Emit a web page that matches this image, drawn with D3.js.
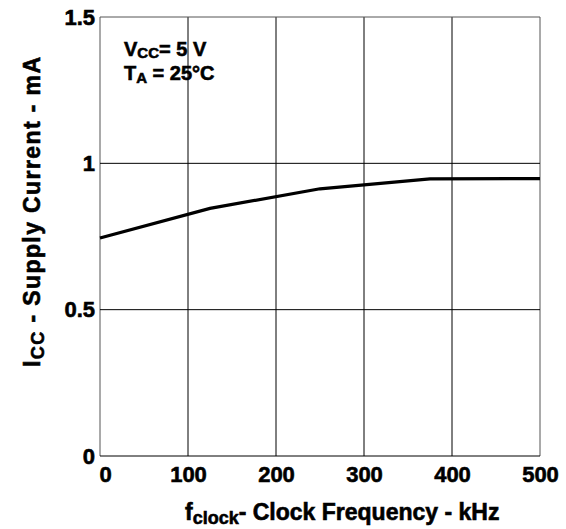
<!DOCTYPE html>
<html>
<head>
<meta charset="utf-8">
<script src="https://cdn.jsdelivr.net/npm/d3@7"></script>
<style>
  body { margin: 0; background: #fff; }
  svg { display: block; font-family: "Liberation Sans", Arial, sans-serif; font-weight: bold; }
  svg text { stroke: #000; stroke-width: 0.6px; }
  .tick text { font-size: 22px; font-weight: bold; fill: #000; }
  .grid line { stroke-width: 1; }
</style>
</head>
<body>
<div id="chart"></div>
<script>
var WIDTH = 566, HEIGHT = 529;
var margin = {top: 17, right: 26, bottom: 73, left: 100};

// supply current vs clock frequency
var freq = [0, 125, 250, 375, 500];
var icc = [0.745, 0.846, 0.913, 0.947, 0.948];
var xTicks = [0, 100, 200, 300, 400, 500];
var yTicks = [0, 0.5, 1, 1.5];

var w = WIDTH - margin.left - margin.right;
var h = HEIGHT - margin.top - margin.bottom;

var svg = d3.select("#chart").append("svg")
    .attr("width", WIDTH)
    .attr("height", HEIGHT);

var g = svg.append("g")
    .attr("transform", "translate(" + margin.left + "," + margin.top + ")");

var xScale = d3.scaleLinear().domain([0, 500]).range([0, w]);
var yScale = d3.scaleLinear().domain([0, 1.5]).range([h, 0]);

// grid
g.append("g").attr("class", "grid")
  .selectAll("line").data(xTicks).enter().append("line")
    .attr("x1", d => xScale(d)).attr("x2", d => xScale(d))
    .attr("y1", 0).attr("y2", h)
    .attr("stroke", d => (d == 0 || d == 500) ? "#555" : "#000");

g.append("g").attr("class", "grid")
  .selectAll("line").data(yTicks).enter().append("line")
    .attr("x1", 0).attr("x2", w)
    .attr("y1", d => yScale(d)).attr("y2", d => yScale(d))
    .attr("stroke", d => (d == 1.5) ? "#555" : "#000");

// axes (labels only)
var xAxis = g.append("g")
    .attr("transform", "translate(0," + h + ")")
    .call(d3.axisBottom(xScale).tickValues(xTicks).tickSize(0).tickPadding(10).tickFormat(d3.format("d")))
    .call(g => g.select(".domain").remove());
xAxis.selectAll(".tick text").attr("dx", d => d == 0 ? 5 : 0);

g.append("g")
    .call(d3.axisLeft(yScale).tickValues(yTicks).tickSize(0).tickPadding(5).tickFormat(d => d))
    .call(g => g.select(".domain").remove());

// curve
var line = d3.line()
    .x((d, i) => xScale(freq[i]))
    .y(d => yScale(d));

g.append("path")
    .attr("d", line(icc))
    .style("fill", "none")
    .style("stroke", "#000")
    .style("stroke-width", 3.2);

// conditions note
var t1 = g.append("text").attr("x", 24).attr("y", 39).style("font-size", "20px");
t1.append("tspan").text("V");
t1.append("tspan").attr("dy", 2).style("font-size", "15px").text("CC");
t1.append("tspan").attr("dy", -2).text("= 5 V");
var t2 = g.append("text").attr("x", 24).attr("y", 63).style("font-size", "20px");
t2.append("tspan").text("T");
t2.append("tspan").attr("dy", 3).style("font-size", "15px").text("A");
t2.append("tspan").attr("dy", -3).text(" = 25\u00B0C");

// x title
var xt = svg.append("text")
    .attr("x", 185).attr("y", 520)
    .style("font-size", "23px");
xt.append("tspan").text("f");
xt.append("tspan").attr("dy", 4).style("font-size", "18px").text("clock");
xt.append("tspan").attr("dy", -4).text("- Clock Frequency - kHz");

// y title
var yt = svg.append("text")
    .attr("transform", "translate(40," + 367 + ") rotate(-90)")
    .style("font-size", "23px").attr("letter-spacing", "1.4px");
yt.append("tspan").text("I");
yt.append("tspan").attr("dy", 4).style("font-size", "18px").text("CC");
yt.append("tspan").attr("dy", -4).text(" - Supply Current - mA");
</script>
</body>
</html>
